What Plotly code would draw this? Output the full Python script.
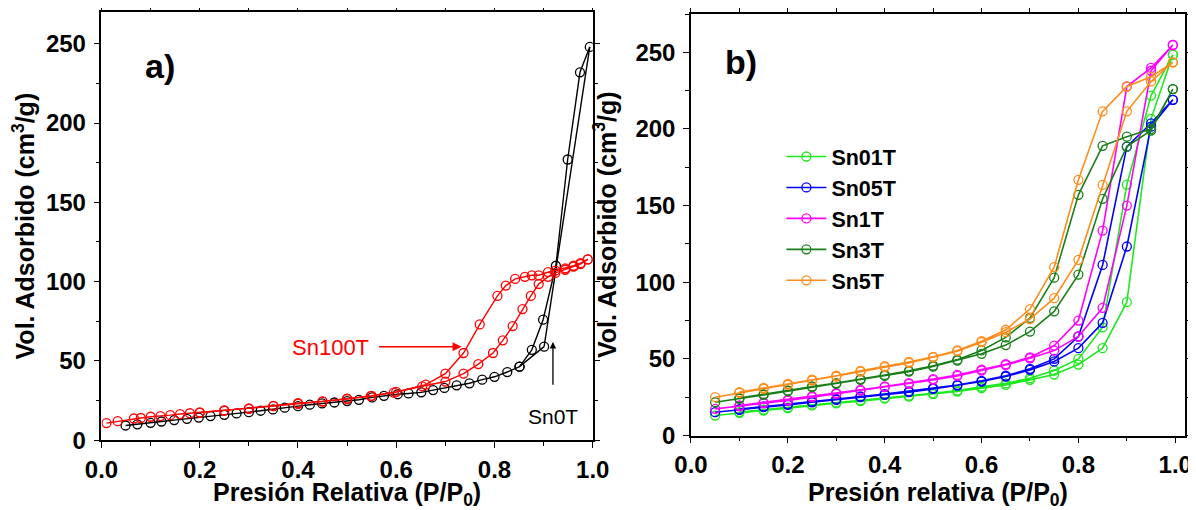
import plotly.graph_objects as go

# ---------------- Panel a data ----------------
sn0t_ads_x = [0.049, 0.073, 0.10, 0.122, 0.148, 0.174, 0.198, 0.222, 0.25, 0.275, 0.30, 0.324, 0.349,
              0.373, 0.40, 0.424, 0.449, 0.474, 0.50, 0.524, 0.551, 0.575, 0.603, 0.625, 0.651, 0.675,
              0.698, 0.723, 0.749, 0.775, 0.80, 0.826, 0.851, 0.901]
sn0t_ads_y = [9.3, 10.0, 11.0, 11.8, 12.7, 13.5, 14.3, 15.2, 16.0, 16.9, 17.7, 18.6, 19.4,
              20.5, 21.5, 22.4, 23.2, 23.8, 24.7, 25.5, 27.0, 28.0, 29.0, 29.5, 30.2, 31.6,
              33.0, 34.6, 35.9, 38.2, 40.0, 43.0, 46.4, 59.0]
sn0t_top_x = [0.901, 0.994]
sn0t_top_y = [59.0, 248.0]
sn0t_des_x = [0.994, 0.974, 0.949, 0.925, 0.899, 0.876, 0.851]
sn0t_des_y = [248.0, 232.0, 177.0, 110.0, 76.0, 57.0, 46.4]

sn100_ads_x = [0.01, 0.033, 0.066, 0.08, 0.10, 0.12, 0.14, 0.16, 0.18, 0.20, 0.25, 0.30, 0.35, 0.40,
               0.45, 0.50, 0.548, 0.595, 0.653, 0.70, 0.737, 0.767, 0.797, 0.817, 0.837, 0.857,
               0.874, 0.89, 0.909, 0.924, 0.944, 0.961, 0.975, 0.99]
sn100_ads_y = [10.8, 12.0, 13.7, 14.0, 14.8, 15.2, 15.8, 16.5, 17.0, 17.3, 18.6, 19.8, 21.5, 23.0,
               24.3, 26.0, 27.8, 30.0, 34.0, 37.0, 42.0, 48.0, 55.0, 63.0, 72.0, 82.7,
               91.0, 98.5, 103.0, 105.5, 107.5, 109.5, 111.0, 114.0]
sn100_des_x = [0.99, 0.975, 0.961, 0.944, 0.924, 0.909, 0.89, 0.876, 0.862, 0.842, 0.823, 0.806,
               0.77, 0.737, 0.70, 0.66, 0.60, 0.55, 0.50, 0.45, 0.40, 0.35, 0.30, 0.25, 0.20]
sn100_des_y = [114.0, 111.6, 110.0, 108.4, 107.0, 106.0, 104.0, 104.0, 103.0, 101.7, 97.5, 91.0,
               73.0, 55.0, 42.0, 35.0, 30.5, 28.0, 26.2, 24.5, 23.3, 21.7, 20.0, 18.8, 17.5]

# ---------------- Panel b data ----------------
p_ads = [0.05, 0.10, 0.15, 0.20, 0.25, 0.30, 0.35, 0.40, 0.45, 0.50, 0.55, 0.60, 0.65, 0.70,
         0.75, 0.80, 0.85, 0.90, 0.95, 0.995]
p_des = [0.995, 0.95, 0.90, 0.85, 0.80, 0.75, 0.70, 0.65, 0.60, 0.55, 0.50, 0.45, 0.40, 0.35,
         0.30, 0.25, 0.20, 0.15, 0.10]

sn01t_ads = [13.0, 14.8, 16.3, 17.8, 19.6, 21.0, 22.4, 24.0, 25.4, 27.0, 28.7, 30.9, 33.0, 36.3,
             39.8, 46.3, 57.0, 87.0, 206.6, 248.5]
sn01t_des = [248.5, 221.8, 163.7, 70.6, 50.0, 42.4, 37.4, 34.0, 31.8, 29.3, 27.5, 26.0, 24.5, 23.0,
             21.5, 20.1, 18.3, 16.8, 15.3]
sn05t_ads = [15.2, 16.7, 18.5, 20.0, 21.7, 23.3, 25.0, 26.5, 28.3, 30.4, 32.6, 35.2, 38.5, 42.8,
             48.3, 57.0, 73.5, 123.3, 201.5, 219.0]
sn05t_des = [219.0, 203.7, 188.5, 111.3, 64.6, 50.0, 43.5, 39.0, 35.7, 33.0, 30.9, 28.8, 27.0, 25.5,
             23.8, 22.2, 20.5, 19.0, 17.2]
sn1t_ads = [17.4, 19.1, 21.0, 22.8, 25.0, 27.2, 29.3, 31.5, 33.7, 36.3, 38.9, 42.4, 46.0, 50.4,
            55.4, 64.6, 83.3, 150.0, 238.0, 254.8]
sn1t_des = [254.8, 239.8, 227.7, 133.7, 75.0, 58.7, 51.0, 46.5, 43.0, 39.5, 36.8, 34.2, 32.0, 29.8,
            27.7, 25.5, 23.3, 21.5, 19.6]
sn3t_ads = [21.7, 23.9, 26.5, 28.9, 31.5, 33.7, 36.3, 38.9, 41.7, 45.0, 48.9, 53.3, 59.0, 67.8,
            81.0, 105.0, 154.4, 188.5, 199.0, 226.0]
sn3t_des = [226.0, 200.0, 195.0, 189.0, 157.0, 103.0, 76.7, 64.0, 55.5, 49.5, 45.5, 42.2, 39.5, 36.8,
            34.2, 32.0, 29.4, 27.0, 24.4]
sn5t_ads = [25.0, 27.8, 30.4, 33.0, 35.9, 38.5, 41.7, 44.6, 47.4, 51.0, 55.0, 60.9, 67.4, 76.0,
            89.6, 114.6, 163.5, 211.5, 231.0, 243.5]
sn5t_des = [243.5, 234.0, 227.7, 211.5, 166.8, 109.8, 82.5, 69.0, 61.5, 55.5, 51.3, 48.0, 45.2, 42.2,
            39.0, 36.4, 33.6, 31.0, 28.3]

series_names = ["Sn01T", "Sn05T", "Sn1T", "Sn3T", "Sn5T"]
series_ads = [sn01t_ads, sn05t_ads, sn1t_ads, sn3t_ads, sn5t_ads]
series_des = [sn01t_des, sn05t_des, sn1t_des, sn3t_des, sn5t_des]
series_colors = ["#1ee81e", "#0000ff", "#ff00ff", "#1a7f1a", "#ff8c1a"]

FONT = "Liberation Sans, Arial, sans-serif"

fig = go.Figure()

mk = dict(symbol="circle-open", size=9, line=dict(width=1.3))

# Panel a traces
fig.add_trace(go.Scatter(x=sn0t_ads_x, y=sn0t_ads_y, mode="lines+markers", xaxis="x", yaxis="y",
                         line=dict(color="black", width=1.4), marker=dict(color="black", **mk),
                         showlegend=False))
fig.add_trace(go.Scatter(x=sn0t_top_x, y=sn0t_top_y, mode="lines", xaxis="x", yaxis="y",
                         line=dict(color="black", width=1.4), showlegend=False))
fig.add_trace(go.Scatter(x=sn0t_des_x, y=sn0t_des_y, mode="lines+markers", xaxis="x", yaxis="y",
                         line=dict(color="black", width=1.4), marker=dict(color="black", **mk),
                         showlegend=False))
fig.add_trace(go.Scatter(x=sn100_ads_x, y=sn100_ads_y, mode="lines+markers", xaxis="x", yaxis="y",
                         line=dict(color="#ff0000", width=1.4), marker=dict(color="#ff0000", **mk),
                         showlegend=False))
fig.add_trace(go.Scatter(x=sn100_des_x, y=sn100_des_y, mode="lines+markers", xaxis="x", yaxis="y",
                         line=dict(color="#ff0000", width=1.4), marker=dict(color="#ff0000", **mk),
                         showlegend=False))

# Panel b traces (one loop per sample)
for name, ads, des, col in zip(series_names, series_ads, series_des, series_colors):
    fig.add_trace(go.Scatter(x=p_ads + p_des, y=ads + des, mode="lines+markers", name=name,
                             xaxis="x2", yaxis="y2",
                             line=dict(color=col, width=1.6),
                             marker=dict(symbol="circle-open", size=9, color=col, line=dict(width=1.3))))

axis_common = dict(
    showline=True, linecolor="black", linewidth=1.5, mirror="ticks",
    ticks="outside", ticklen=6, tickwidth=1.3, tickcolor="black",
    showgrid=False, zeroline=False, automargin=False,
    tickfont=dict(family=FONT, size=24, color="black", weight="bold"),
    title_font=dict(family=FONT, size=25, color="black", weight="bold"),
)

# page body adds an 8px offset, so the figure is 1188x502 and sits at (8, 8)
fig.update_layout(
    width=1188, height=502,
    margin=dict(l=0, r=0, t=0, b=0, autoexpand=False),
    paper_bgcolor="white", plot_bgcolor="white",
    xaxis=dict(domain=[0.0787, 0.4922], range=[0, 1.0], dtick=0.2, tick0=0, tickformat=".1f",
               minor=dict(dtick=0.1, ticklen=4, tickcolor="black", ticks="outside"),
               title=dict(text="Presión Relativa (P/P<sub>0</sub>)", standoff=1),
               anchor="y", ticklabelstandoff=1, **axis_common),
    yaxis=dict(domain=[0.139, 0.992], range=[0, 270], dtick=50, tick0=0,
               minor=dict(dtick=25, ticklen=4, tickcolor="black", ticks="outside"),
               title=dict(text="Vol. Adsorbido (cm<sup>3</sup>/g)", standoff=12),
               anchor="x", ticklabelstandoff=3, **axis_common),
    xaxis2=dict(domain=[0.5749, 0.9907], range=[0, 1.02], dtick=0.2, tick0=0, tickformat=".1f",
                minor=dict(dtick=0.1, ticklen=4, tickcolor="black", ticks="outside"),
                title=dict(text="Presión relativa (P/P<sub>0</sub>)", standoff=1),
                anchor="y2", ticklabelstandoff=1, **axis_common),
    yaxis2=dict(domain=[0.1484, 0.988], range=[0, 275], dtick=50, tick0=0,
                minor=dict(dtick=25, ticklen=4, tickcolor="black", ticks="outside"),
                title=dict(text="Vol. Adsorbido (cm<sup>3</sup>/g)", standoff=12),
                anchor="x2", ticklabelstandoff=3, **axis_common),
    legend=dict(x=0.651, y=0.745, xanchor="left", yanchor="top",
                font=dict(family=FONT, size=21.5, color="black", weight="bold"),
                bgcolor="rgba(0,0,0,0)", itemwidth=40, tracegroupgap=0),
    annotations=[
        dict(x=0.12, y=236, xref="x", yref="y", text="a)", showarrow=False,
             font=dict(family=FONT, size=34, color="black", weight="bold")),
        dict(x=0.103, y=244, xref="x2", yref="y2", text="b)", showarrow=False,
             font=dict(family=FONT, size=34, color="black", weight="bold")),
        dict(x=0.466, y=58.4, xref="x", yref="y", text="Sn100T", showarrow=False,
             font=dict(family=FONT, size=22, color="#ff0000")),
        dict(x=0.733, y=59, ax=0.562, ay=59, xref="x", yref="y", axref="x", ayref="y",
             text="", showarrow=True, arrowhead=2, arrowsize=1.2, arrowwidth=1.5,
             arrowcolor="#ff0000"),
        dict(x=0.92, y=15.2, xref="x", yref="y", text="Sn0T", showarrow=False,
             font=dict(family=FONT, size=21, color="black")),
        dict(x=0.919, y=62, ax=0.919, ay=34, xref="x", yref="y", axref="x", ayref="y",
             text="", showarrow=True, arrowhead=2, arrowsize=1.0, arrowwidth=1.3,
             arrowcolor="black"),
    ],
)

fig.write_html("out.html")
